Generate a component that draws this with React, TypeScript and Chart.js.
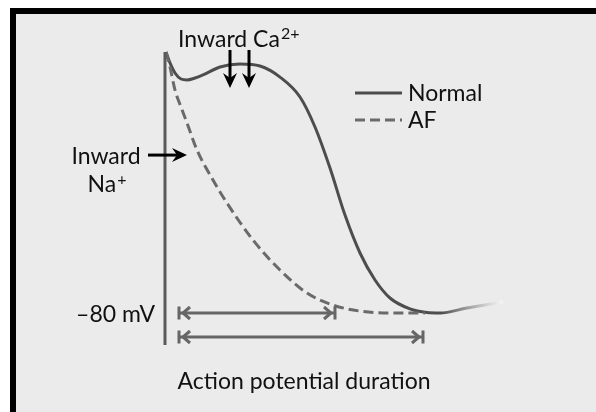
import React, { useEffect, useRef } from "react";
import { Chart, registerables } from "chart.js";
Chart.register(...registerables);

// Time (ms) and membrane potential (mV)
const timeNormal = [1.25, 6.25, 12.5, 20, 27.5, 37.5, 47.5, 68.75, 93.75, 118.75, 143.75, 168.75, 187.5, 206.25, 225, 243.75, 262.5, 281.25, 306.25, 327.5, 343.75, 377.5, 422.5];
const mvNormal = [28.75, 24.2, 20, 17.5, 17.1, 17.9, 19.2, 22.5, 23.75, 22.9, 18.3, 10, -2.5, -19.6, -39.2, -55, -66.25, -73.75, -78.3, -79.8, -80, -77.9, -75.4];
const timeAF = [1.25, 6.25, 12.5, 20, 27.5, 40, 60, 77.5, 110, 143.75, 177.5, 210, 243.75, 293.75, 325];
const mvAF = [28.75, 22.5, 12.9, 5.8, -0.8, -12.1, -24.6, -34.2, -49.6, -62.1, -71.7, -76.7, -79.2, -80, -80];
const axisTime = [0, 0];
const axisMv = [28.75, -93.3];
const seriesLabels = ["Normal", "AF"];

// Annotations (ms / mV)
const apdStartsEnds = [
  [17.5, 212.5],
  [17.5, 322.5],
];
const apdRowsMv = [-80, -90];
const caArrowTimes = [81.25, 105];
const caArrowMv = [29.6, 13.75];
const naArrowTime = [-21.25, 27.5];
const naArrowMv = -14.2;
const restLabel = "\u201380 mV";
const caLabel = "Inward Ca";
const caSup = "2+";
const naLabel1 = "Inward";
const naLabel2 = "Na";
const naSup = "+";
const xTitle = "Action potential duration";

const FONT = "Lato, 'Open Sans', sans-serif";
const FS = 23;
const SUP = 16;

function filledArrow(ctx: CanvasRenderingContext2D, x1: number, y1: number, x2: number, y2: number) {
  const ang = Math.atan2(y2 - y1, x2 - x1);
  const head = 15;
  const half = 7;
  const notch = 10;
  const cos = Math.cos(ang), sin = Math.sin(ang);
  ctx.beginPath();
  ctx.lineWidth = 3;
  ctx.moveTo(x1, y1);
  ctx.lineTo(x2 - cos * notch, y2 - sin * notch);
  ctx.stroke();
  ctx.beginPath();
  ctx.moveTo(x2, y2);
  ctx.lineTo(x2 - cos * head - sin * half, y2 - sin * head + cos * half);
  ctx.lineTo(x2 - cos * notch, y2 - sin * notch);
  ctx.lineTo(x2 - cos * head + sin * half, y2 - sin * head - cos * half);
  ctx.closePath();
  ctx.fill();
}

function spanArrow(ctx: CanvasRenderingContext2D, xa: number, xb: number, y: number) {
  ctx.lineWidth = 3;
  ctx.lineCap = "butt";
  ctx.beginPath();
  ctx.moveTo(xa, y);
  ctx.lineTo(xb, y);
  ctx.stroke();
  ctx.beginPath();
  ctx.moveTo(xa, y - 6.5);
  ctx.lineTo(xa, y + 6.5);
  ctx.moveTo(xb, y - 6.5);
  ctx.lineTo(xb, y + 6.5);
  ctx.stroke();
  ctx.lineJoin = "miter";
  ctx.beginPath();
  ctx.moveTo(xa + 11, y - 6);
  ctx.lineTo(xa + 4, y);
  ctx.lineTo(xa + 11, y + 6);
  ctx.moveTo(xb - 11, y - 6);
  ctx.lineTo(xb - 4, y);
  ctx.lineTo(xb - 11, y + 6);
  ctx.stroke();
}

const decor = {
  id: "decor",
  beforeDraw(chart: any) {
    const { ctx, width, height } = chart;
    ctx.save();
    ctx.fillStyle = "#ffffff";
    ctx.fillRect(0, 0, width, height);
    ctx.fillStyle = "#ebebeb";
    ctx.fillRect(10, 8, width - 10, height - 8);
    ctx.fillStyle = "#000000";
    ctx.fillRect(10, 8, width - 10, 6);
    ctx.fillRect(10, 8, 6, height - 8);
    ctx.restore();
  },
  afterDatasetsDraw(chart: any) {
    const { ctx } = chart;
    const xs = chart.scales.x;
    const ys = chart.scales.y;
    ctx.save();

    ctx.strokeStyle = "#666666";
    apdStartsEnds.forEach((se, i) => {
      spanArrow(ctx, xs.getPixelForValue(se[0]), xs.getPixelForValue(se[1]), ys.getPixelForValue(apdRowsMv[i]));
    });

    ctx.strokeStyle = "#000";
    ctx.fillStyle = "#000";
    caArrowTimes.forEach((t) => {
      const x = xs.getPixelForValue(t);
      filledArrow(ctx, x, ys.getPixelForValue(caArrowMv[0]), x, ys.getPixelForValue(caArrowMv[1]));
    });
    const ny = ys.getPixelForValue(naArrowMv);
    filledArrow(ctx, xs.getPixelForValue(naArrowTime[0]), ny, xs.getPixelForValue(naArrowTime[1]), ny);

    ctx.fillStyle = "#111";
    ctx.textBaseline = "middle";
    ctx.font = `${FS}px ${FONT}`;
    ctx.textAlign = "left";
    ctx.fillText(caLabel, 178, 40);
    const w = ctx.measureText(caLabel).width;
    ctx.font = `${SUP}px ${FONT}`;
    ctx.fillText(caSup, 178 + w + 1, 34);

    ctx.font = `${FS}px ${FONT}`;
    ctx.textAlign = "center";
    ctx.fillText(naLabel1, 106, 157);
    const wNa = ctx.measureText(naLabel2).width;
    ctx.font = `${SUP}px ${FONT}`;
    const wSup = ctx.measureText(naSup).width;
    ctx.font = `${FS}px ${FONT}`;
    ctx.textAlign = "left";
    const naX = 107 - (wNa + wSup + 1) / 2;
    ctx.fillText(naLabel2, naX, 185);
    ctx.font = `${SUP}px ${FONT}`;
    ctx.fillText(naSup, naX + wNa + 1, 180);

    ctx.font = `${FS}px ${FONT}`;
    ctx.textAlign = "right";
    ctx.fillText(restLabel, 155, ys.getPixelForValue(-80) + 2);

    ctx.textAlign = "center";
    ctx.fillText(xTitle, 304, 382);

    const legendY = [93, 120];
    chart.data.datasets.forEach((ds: any) => {
      const idx = seriesLabels.indexOf(ds.label);
      if (idx < 0) return;
      const y = legendY[idx];
      ctx.strokeStyle = idx === 0 ? "#4d4d4d" : ds.borderColor;
      ctx.lineWidth = 3;
      ctx.setLineDash(ds.borderDash || []);
      ctx.beginPath();
      ctx.moveTo(355, y);
      ctx.lineTo(402, y);
      ctx.stroke();
      ctx.setLineDash([]);
      ctx.fillStyle = "#111";
      ctx.textAlign = "left";
      ctx.font = `${FS}px ${FONT}`;
      ctx.fillText(ds.label, 408, y + 1);
    });

    ctx.restore();
  },
};

export default function App() {
  const ref = useRef<HTMLCanvasElement | null>(null);
  useEffect(() => {
    if (!ref.current) return;
    const chart = new Chart(ref.current, {
      type: "line",
      data: {
        datasets: [
          {
            label: "axis",
            data: axisTime.map((t, i) => ({ x: t, y: axisMv[i] })),
            borderColor: "#5a5a5a",
            borderWidth: 3,
            pointRadius: 0,
            clip: false,
          } as any,
          {
            label: seriesLabels[1],
            data: timeAF.map((t, i) => ({ x: t, y: mvAF[i] })),
            borderColor: "#6a6a6a",
            borderWidth: 3,
            borderDash: [10, 5],
            pointRadius: 0,
            cubicInterpolationMode: "monotone",
            clip: false,
          } as any,
          {
            label: seriesLabels[0],
            data: timeNormal.map((t, i) => ({ x: t, y: mvNormal[i] })),
            borderColor: (c: any) => {
              const ch = c.chart;
              const xs = ch.scales && ch.scales.x;
              if (!ch.chartArea || !xs) return "#4d4d4d";
              const a = xs.getPixelForValue(345);
              const b = xs.getPixelForValue(425);
              if (!isFinite(a) || !isFinite(b)) return "#4d4d4d";
              const g = ch.ctx.createLinearGradient(a, 0, b, 0);
              g.addColorStop(0, "#4d4d4d");
              g.addColorStop(1, "rgba(255,255,255,0.8)");
              return g;
            },
            borderWidth: 3,
            pointRadius: 0,
            cubicInterpolationMode: "monotone",
            clip: false,
          } as any,
        ],
      },
      options: {
        responsive: false,
        animation: false,
        layout: { padding: { left: 165, right: 71, top: 49, bottom: 51 } },
        scales: {
          x: { type: "linear", min: 0, max: 450, display: false },
          y: { type: "linear", min: -100, max: 30, display: false },
        },
        plugins: { legend: { display: false }, tooltip: { enabled: false } },
        elements: { point: { radius: 0 } },
      },
      plugins: [decor],
    });
    return () => chart.destroy();
  }, []);
  return (
    <div style={{ position: "fixed", left: 0, top: 0, width: 596, height: 412 }}>
      <canvas ref={ref} width={596} height={412} style={{ width: 596, height: 412, display: "block" }} />
    </div>
  );
}
